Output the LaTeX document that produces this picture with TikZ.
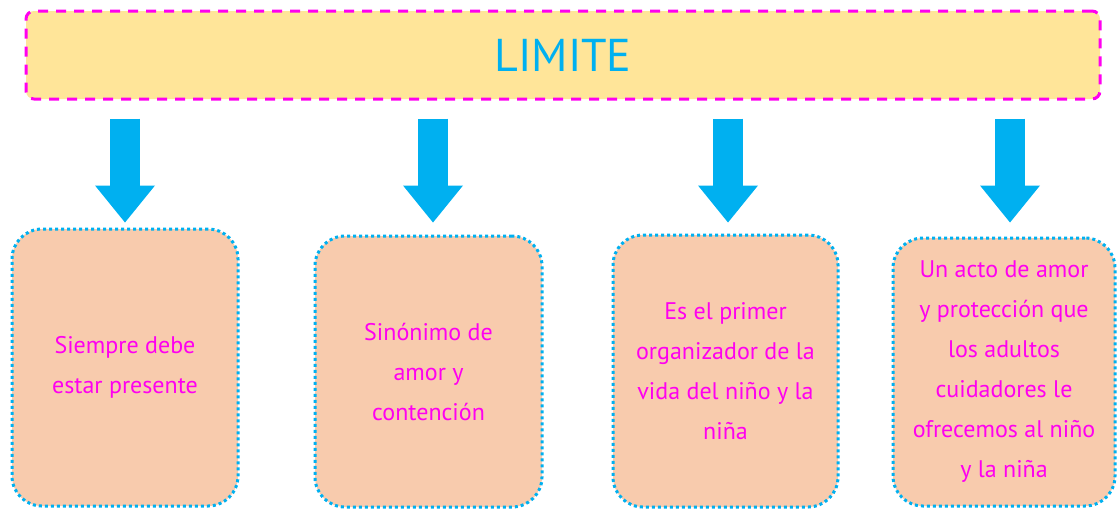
\documentclass[tikz,border=0pt]{standalone}
\usepackage{fontspec}
\setmainfont{PT Sans}
\usetikzlibrary{positioning}
\usetikzlibrary{arrows.meta}
\definecolor{titlefill}{HTML}{FFE599}
\definecolor{peach}{HTML}{F8CBAD}
\definecolor{skyblue}{HTML}{00B0F0}
\definecolor{pinky}{HTML}{FF00F0}
\tikzset{
    titlebox/.style = {rectangle, rounded corners=4pt, draw=pinky, line width=1.5pt, dash pattern=on 5pt off 4pt, fill=titlefill, minimum width=537pt, minimum height=44pt, font=\fontsize{23}{28}\selectfont, text=skyblue},
    idea/.style = {rectangle, rounded corners=15pt, draw=skyblue, line width=1.5pt, dash pattern=on 1.5pt off 1.5pt, fill=peach, align=center, text=pinky, font=\fontsize{12}{20}\selectfont},
    bigarrow/.style = {-{Triangle[width=30pt,length=18.5pt,line width=0pt]}, line width=15pt, skyblue, shorten <=9pt}
}
\begin{document}
\begin{tikzpicture}[x=0.5pt,y=-0.5pt]
  \useasboundingbox (0,0) rectangle (1117,510);
  \node[titlebox] at (563,55) (top) {LIMITE};
  \node[idea, minimum width=113pt, minimum height=138.5pt] at (125,367.5) (b1) {Siempre debe\\estar presente};
  \node[idea, minimum width=113.5pt, minimum height=135.5pt] at (428.5,371.5) (b2) {Sinónimo de\\amor y\\contención};
  \node[idea, minimum width=112.5pt, minimum height=136pt] at (725.5,371) (b3) {Es el primer\\organizador de la\\vida del niño y la\\niña};
  \node[idea, minimum width=111pt, minimum height=134pt] at (1004,372) (b4) {Un acto de amor\\y protección que\\los adultos\\cuidadores le\\ofrecemos al niño\\y la niña};
  % arrows from the title to every idea
  \foreach \b/\d/\s in {b1/0pt/2.5pt, b2/2.25pt/6pt, b3/1.25pt/5.5pt, b4/3pt/7pt}
    \draw[bigarrow, shorten >=\s] ([xshift=\d]top.south -| \b.north) -- ([xshift=\d]\b.north);
\end{tikzpicture}
\end{document}
